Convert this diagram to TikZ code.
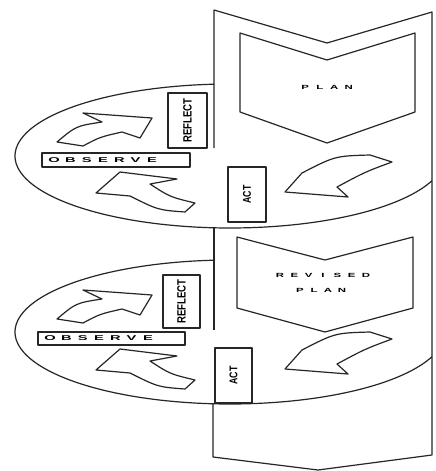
\documentclass[tikz,border=0pt]{standalone}
\usepackage{fontspec}
\setmainfont{Liberation Sans}
\usepackage{graphicx}
\ExplSyntaxOn
\NewDocumentCommand\spread{mmm}{\tl_map_inline:nn{#3}{\makebox[#1]{\scalebox{#2}[1]{##1}}}}
\ExplSyntaxOff
\begin{document}
\begin{tikzpicture}[x=1pt,y=-1pt,line join=round,
  ln/.style={line width=1.2pt,draw=black!85},
  lbox/.style={ln,fill=white,inner sep=0pt,font=\bfseries\fontsize{8}{8}\selectfont},
  lbl/.style={inner sep=0pt,font=\bfseries\fontsize{6}{6}\selectfont},
  blockarrow/.style={ln,fill=white}]
\fill[white] (0,0) rectangle (436,471);
\useasboundingbox (0,0) rectangle (436,471);
% ---- band ----
\draw[ln] (214,148) -- (214,10) -- (327,43) -- (432,12) -- (432,455) -- (318,470) -- (213,457) -- (213,404);
\draw[ln] (214,228) -- (214,330);
% ---- plan chevrons ----
\draw[ln] (240,33) -- (327,60) -- (415,33) -- (415,112) -- (327,143) -- (240,112) -- cycle;
\draw[ln] (237,237) -- (325,260) -- (413,237) -- (413,308) -- (325,332) -- (237,308) -- cycle;
\node[lbl] (plan1) at (327,87) {\spread{14.5pt}{1.9}{PLAN}};
\node[lbl] (rev) at (323,275) {\spread{14.3pt}{1.9}{REVISED}};
\node[lbl] (plan2) at (321,290) {\spread{14pt}{1.9}{PLAN}};
% ---- ellipses ----
\draw[ln] plot[domain=94.27:340, samples=150, variable=\t] ({230+215*cos(\t)},{156-72*sin(\t)});
\draw[ln] plot[domain=94.27:340, samples=150, variable=\t] ({230+215*cos(\t)},{332-72*sin(\t)});
% ---- curved block arrows ----
\foreach \dy in {0,177}{
\begin{scope}[shift={(0,\dy)}]
  % observe -> reflect
  \draw[blockarrow] (83,113) -- (152,118) -- (140,138) -- (122,132)
     .. controls (100,137) .. (83,146) -- (57,142) .. controls (76,126) .. (102,122) -- cycle;
  % act -> observe
  \draw[blockarrow] (96,193) -- (120,172) -- (177,179) -- (150,184)
     .. controls (170,197) .. (195,203) -- (185,212) .. controls (158,210) .. (130,196) -- cycle;
  % plan -> act
  \draw[blockarrow] (285,192) -- (302,173) .. controls (335,156) .. (370,155) -- (392,162)
     .. controls (365,172) .. (337,187) -- (348,197) -- cycle;
\end{scope}}
% ---- label boxes ----
\node[lbox,minimum width=39pt,minimum height=55pt] (refl1) at (187.5,120.5) {\rotatebox{90}{\scalebox{1.2}[1.5]{REFLECT}}};
\node[lbox,minimum width=38pt,minimum height=55pt] (act1) at (247,194.5) {\rotatebox{90}{\scalebox{1.1}[1.4]{ACT}}};
\node[lbox,minimum width=148pt,minimum height=14pt,text width=140pt,align=left,inner xsep=4pt,font=\bfseries\fontsize{7}{7}\selectfont] (obs1) at (116,160) {\spread{16.3pt}{2.1}{OBSERVE}};
\node[lbox,minimum width=37pt,minimum height=53pt] (refl2) at (181.5,301.5) {\rotatebox{90}{\scalebox{1.2}[1.5]{REFLECT}}};
\node[lbox,minimum width=37pt,minimum height=55pt] (act2) at (233.5,375.5) {\rotatebox{90}{\scalebox{1.1}[1.4]{ACT}}};
\node[lbox,minimum width=147pt,minimum height=13pt,text width=139pt,align=left,inner xsep=4pt,font=\bfseries\fontsize{7}{7}\selectfont] (obs2) at (111.5,338.5) {\spread{16.3pt}{2.1}{OBSERVE}};
\end{tikzpicture}
\end{document}
